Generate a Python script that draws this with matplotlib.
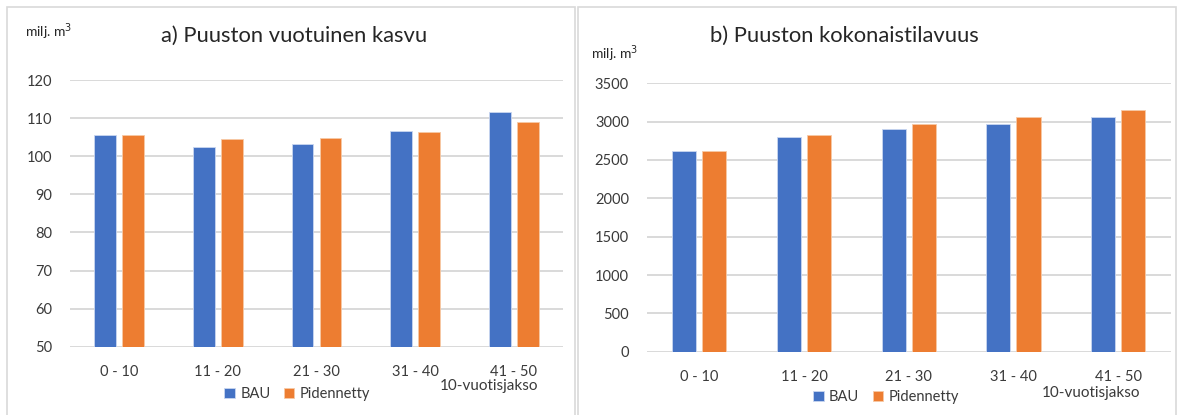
import numpy as np
import matplotlib.pyplot as plt
from matplotlib.patches import Rectangle

plt.rcParams['font.family'] = ['Lato', 'DejaVu Sans']

jaksot = ['0 - 10', '11 - 20', '21 - 30', '31 - 40', '41 - 50']
kasvu_bau = [105.6, 102.5, 103.1, 106.6, 111.5]
kasvu_pid = [105.6, 104.4, 104.9, 106.4, 109.0]
tilavuus_bau = [2615, 2800, 2900, 2965, 3055]
tilavuus_pid = [2615, 2825, 2965, 3065, 3155]

blue = '#4472C4'
orange = '#ED7D31'
grid_c = '#D9D9D9'
txt_c = '#595959'

W, H = 1178, 415
fig = plt.figure(figsize=(W / 100, H / 100), dpi=100)

# paneelien kehykset
for x0, x1 in [(7, 575), (578, 1176)]:
    fig.patches.append(Rectangle((x0 / W, -0.05), (x1 - x0) / W, 1 - 7 / H + 0.05,
                                 transform=fig.transFigure, fill=False,
                                 edgecolor=grid_c, lw=1.2))


def px_axes(x0, x1, ytop, ybot):
    return fig.add_axes([x0 / W, 1 - ybot / H, (x1 - x0) / W, (ybot - ytop) / H])


def draw(ax, bau, pid, ylim, step, w, gap):
    x = np.arange(len(jaksot))
    off = w / 2 + gap / 2
    ax.bar(x - off, bau, w, color=blue, edgecolor='#C9D6F0', lw=0.6, label='BAU', zorder=3)
    ax.bar(x + off, pid, w, color=orange, edgecolor='#F7C9A6', lw=0.6, label='Pidennetty', zorder=3)
    ax.set_xlim(-0.5, len(jaksot) - 0.5)
    ax.set_ylim(*ylim)
    ax.set_yticks(np.arange(ylim[0], ylim[1] + 1, step))
    ax.set_xticks(x)
    ax.set_xticklabels(jaksot)
    ax.grid(axis='y', color=grid_c, lw=1.4, zorder=0)
    ax.tick_params(length=0, labelsize=10.5, colors=txt_c, labelcolor='#3a3a3a')
    ax.tick_params(axis='x', pad=13)
    ax.tick_params(axis='y', pad=13)
    for s in ax.spines.values():
        s.set_visible(False)
    ax.set_axisbelow(True)


ax1 = px_axes(70, 563, 80, 346.7)
draw(ax1, kasvu_bau, kasvu_pid, (50, 120), 10, 0.22, 0.064)

ax2 = px_axes(647, 1170.5, 83.3, 351.7)
draw(ax2, tilavuus_bau, tilavuus_pid, (0, 3500), 500, 0.23, 0.057)

fig.text(294 / W, 1 - 36 / H, 'a) Puuston vuotuinen kasvu', ha='center', va='center',
         fontsize=15.8, color='#262626')
fig.text(844 / W, 1 - 36 / H, 'b) Puuston kokonaistilavuus', ha='center', va='center',
         fontsize=15.8, color='#262626')

fig.text(49 / W, 1 - 31.7 / H, 'milj. m$^3$', ha='center', va='center', fontsize=10, color='#262626')
fig.text(615 / W, 1 - 53.3 / H, 'milj. m$^3$', ha='center', va='center', fontsize=10, color='#262626')

fig.text(489 / W, 1 - 386 / H, '10-vuotisjakso', ha='center', va='center', fontsize=11, color='#3a3a3a')
fig.text(1091 / W, 1 - 392.7 / H, '10-vuotisjakso', ha='center', va='center', fontsize=11, color='#3a3a3a')

for ax, cx, cy in [(ax1, 297, 394), (ax2, 886, 397)]:
    leg = ax.legend(loc='center', bbox_to_anchor=(cx / W, 1 - cy / H),
                    bbox_transform=fig.transFigure, ncol=2, frameon=False,
                    handlelength=0.75, handleheight=0.75, handletextpad=0.35,
                    columnspacing=0.9, fontsize=10.5)
    for t in leg.get_texts():
        t.set_color('#3a3a3a')

fig.savefig('out.png', dpi=100)
